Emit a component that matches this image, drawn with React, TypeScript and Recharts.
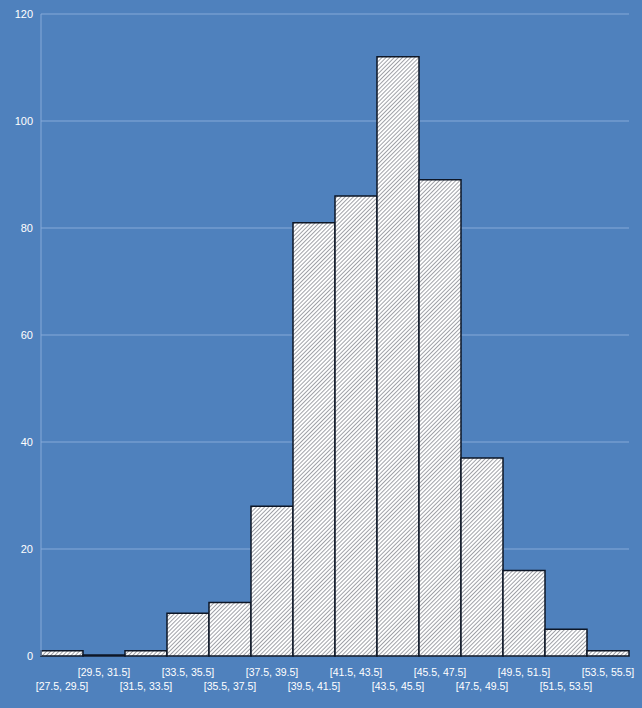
import { BarChart, Bar, XAxis, YAxis, CartesianGrid } from "recharts";

const bins = [
  "[27.5, 29.5]", "[29.5, 31.5]", "[31.5, 33.5]", "[33.5, 35.5]", "[35.5, 37.5]",
  "[37.5, 39.5]", "[39.5, 41.5]", "[41.5, 43.5]", "[43.5, 45.5]", "[45.5, 47.5]",
  "[47.5, 49.5]", "[49.5, 51.5]", "[51.5, 53.5]", "[53.5, 55.5]",
];
const counts = [1, 0, 1, 8, 10, 28, 81, 86, 112, 89, 37, 16, 5, 1];
const yTicks = [0, 20, 40, 60, 80, 100, 120];

const data = bins.map((bin, i) => ({ bin, count: counts[i] }));

const FONT = "'Liberation Sans', Arial, sans-serif";

// staggered labels: odd bins on the upper row, even bins on the lower row
function BinTick(props: any) {
  const { x, y, payload, index } = props;
  const dy = index % 2 === 1 ? 12 : 26;
  return (
    <text x={x} y={y + dy} textAnchor="middle" fill="#ffffff" fontSize={10.5} fontFamily={FONT}>
      {payload.value}
    </text>
  );
}

export default function App() {
  return (
    <div style={{ position: "absolute", left: 0, top: 0, width: 642, height: 708, background: "#4f81bd" }}>
      <BarChart
        width={642}
        height={708}
        data={data}
        barCategoryGap={0}
        margin={{ top: 14, right: 13, bottom: 0, left: 0 }}
      >
        <defs>
          <pattern id="hatch" patternUnits="userSpaceOnUse" width="2.9" height="2.9" patternTransform="rotate(45)">
            <rect width="2.9" height="2.9" fill="#ffffff" />
            <line x1="0" y1="0" x2="0" y2="2.9" stroke="#2e3440" strokeWidth="0.9" />
          </pattern>
        </defs>
        <CartesianGrid vertical={false} stroke="#86a9d8" strokeWidth={1} />
        <XAxis
          dataKey="bin"
          interval={0}
          height={52}
          axisLine={false}
          tickLine={false}
          tick={<BinTick />}
        />
        <YAxis
          domain={[0, 120]}
          ticks={yTicks}
          width={41}
          axisLine={{ stroke: "#86a9d8" }}
          tickLine={false}
          tick={{ fill: "#ffffff", fontSize: 11, fontFamily: FONT }}
        />
        <Bar
          dataKey="count"
          fill="url(#hatch)"
          stroke="#0d1626"
          strokeWidth={1.5}
          minPointSize={1}
          isAnimationActive={false}
        />
      </BarChart>
    </div>
  );
}
